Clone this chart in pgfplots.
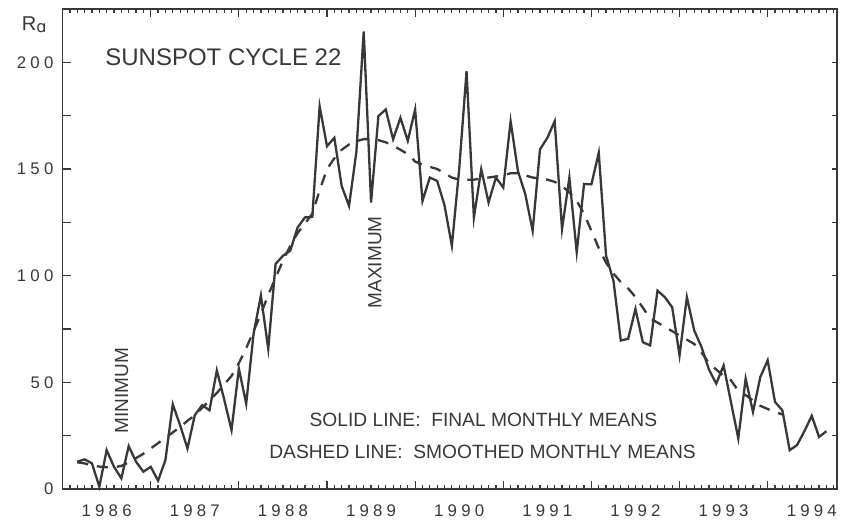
\documentclass[border=0pt]{standalone}
\usepackage{pgfplots}
\usepackage{pgfplotstable}
\pgfplotsset{compat=1.18}
\usepackage{fontspec}
\setmainfont{Liberation Sans}
\newfontfamily\tickfont[LetterSpace=25]{Liberation Sans}
\newfontfamily\ipafont{DejaVu Sans}
\definecolor{ink}{HTML}{383838}

% k = months since January 1986
\pgfplotstableread{
k v
2 12.8
3 13.9
4 12.0
5 1.1
6 18.2
7 10.4
8 5.0
9 20.1
10 12.8
11 8.1
12 10.4
13 3.9
14 13.6
15 39.7
16 29.9
17 19.0
18 34.6
19 39.3
20 36.9
21 55.6
22 42.0
23 27.6
24 56.4
25 40.0
26 72.7
27 90.7
28 65.7
29 105.5
30 109.3
31 111.7
32 122.6
33 127.3
34 127.6
35 179.4
36 160.7
37 164.6
38 142.0
39 132.7
40 158.0
41 214.5
42 134.3
43 174.8
44 177.9
45 163.9
46 174.0
47 163.2
48 177.9
49 135.0
50 146.0
51 144.4
52 133.0
53 114.0
54 150.0
55 195.8
56 127.2
57 149.9
58 134.3
59 146.0
60 141.3
61 172.4
62 149.0
63 138.2
64 121.0
65 159.2
66 164.6
67 172.4
68 121.8
69 146.0
70 111.0
71 143.0
72 142.8
73 157.6
74 109.3
75 97.7
76 69.6
77 70.4
78 84.4
79 68.8
80 67.3
81 93.0
82 89.9
83 85.2
84 62.6
85 89.9
86 74.3
87 66.5
88 56.0
89 49.4
90 57.9
91 40.8
92 23.7
93 51.7
94 36.1
95 52.5
96 60.3
97 40.8
98 36.9
99 18.2
100 20.6
101 27.1
102 34.3
103 24.4
104 27.1
}\solidtab

\pgfplotstableread{
k v
2 12.5
3 12.0
4 11.0
5 10.5
6 10.2
7 10.2
8 10.8
9 12.5
10 14.5
11 16.5
12 19.0
13 21.5
14 24.0
15 26.5
16 29.0
17 32.0
18 34.5
19 38.0
20 41.5
21 45.0
22 49.0
23 53.0
24 59.0
25 66.0
26 74.0
27 82.0
28 91.0
29 99.0
30 107.0
31 114.0
32 120.0
33 124.5
34 129.0
35 140.0
36 150.0
37 155.0
38 159.0
39 161.5
40 163.0
41 164.0
42 164.0
43 163.5
44 162.5
45 161.0
46 159.0
47 157.0
48 153.5
49 152.0
50 151.0
51 150.0
52 148.0
53 146.0
54 145.0
55 145.0
56 145.0
57 145.5
58 146.0
59 146.5
60 147.0
61 148.0
62 148.0
63 147.0
64 146.0
65 145.5
66 145.0
67 144.0
68 142.0
69 139.0
70 135.0
71 129.0
72 121.0
73 113.0
74 106.0
75 101.0
76 97.0
77 94.0
78 90.0
79 85.0
80 80.0
81 78.0
82 76.0
83 74.0
84 72.0
85 70.0
86 68.0
87 64.0
88 59.0
89 56.0
90 53.0
91 51.0
92 46.0
93 44.0
94 41.5
95 39.0
96 37.5
97 36.0
98 35.0
}\smoothtab

\begin{document}
\begin{tikzpicture}
\begin{axis}[
  scale only axis, width=774.1pt, height=480pt,
  xmin=0, xmax=105.4, ymin=0, ymax=225,
  clip=false,
  axis line style={ink, line width=1.6pt},
  xtick={12,24,...,96}, xticklabels={},
  minor xtick={1,...,105},
  extra x ticks={6,18,...,102},
  extra x tick labels={1986,1987,1988,1989,1990,1991,1992,1993,1994},
  extra x tick style={major tick length=0pt},
  xtick pos=both,
  ytick={0,25,...,200}, yticklabels={0,,50,,100,,150,,200},
  ytick pos=left,
  tick align=inside,
  major tick length=8pt, minor tick length=4pt,
  tick style={ink, line width=1.2pt},
  ticklabel style={font=\fontsize{16.8}{17}\tickfont, text=ink, inner sep=0pt},
  xticklabel style={anchor=north, yshift=-16pt},
  yticklabel style={anchor=east, xshift=-9pt},
]
\addplot[ink, line width=2.3pt] table[x=k,y=v] {\solidtab};
\addplot[ink, line width=2.3pt, dash pattern=on 11pt off 9pt] table[x=k,y=v] {\smoothtab};

\node[anchor=base, font=\fontsize{24}{24}\selectfont, text=ink] at (rel axis cs:0.2077,0.8833) {SUNSPOT CYCLE 22};
\node[anchor=base, font=\fontsize{19.2}{19}\selectfont, text=ink] at (rel axis cs:0.5436,0.1298) {SOLID LINE:\ \ FINAL MONTHLY MEANS};
\node[anchor=base, font=\fontsize{19.2}{19}\selectfont, text=ink] at (rel axis cs:0.5425,0.064) {DASHED LINE:\ \ SMOOTHED MONTHLY MEANS};
\node[rotate=90, font=\fontsize{19}{19}\selectfont, text=ink] at (rel axis cs:0.0763,0.2052) {MINIMUM};
\node[rotate=90, font=\fontsize{19}{19}\selectfont, text=ink] at (rel axis cs:0.4036,0.4723) {MAXIMUM};
\node[anchor=base west, font=\fontsize{20}{20}\selectfont, text=ink, inner sep=0pt] at (rel axis cs:-0.0528,0.956) {R\raisebox{-2pt}{\fontsize{16}{16}\ipafont ɑ}};
\end{axis}
\begin{axis}[
  scale only axis, width=774.1pt, height=480pt,
  xmin=0, xmax=105.4, ymin=0, ymax=225,
  axis line style={draw=none},
  xtick=\empty,
  ytick={0,25,...,200}, yticklabels={},
  ytick pos=right, tick align=inside,
  major tick length=5pt,
  tick style={ink, line width=1.2pt},
]
\end{axis}
\pgfresetboundingbox
\path[use as bounding box] (-62.6pt,-30pt) rectangle (785.4pt,489pt);
\end{tikzpicture}
\end{document}
